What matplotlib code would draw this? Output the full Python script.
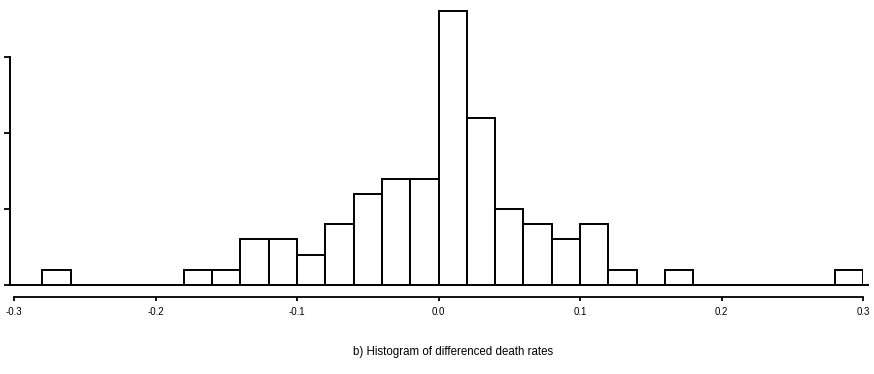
import numpy as np
import matplotlib
matplotlib.use("Agg")
import matplotlib.pyplot as plt

plt.rcParams['font.family'] = ['Liberation Sans', 'DejaVu Sans']

# bin edges (left) and counts of the histogram
bin_left = [-0.28, -0.26, -0.24, -0.22, -0.20, -0.18, -0.16, -0.14, -0.12, -0.10,
            -0.08, -0.06, -0.04, -0.02, 0.00, 0.02, 0.04, 0.06, 0.08, 0.10,
            0.12, 0.14, 0.16, 0.18, 0.20, 0.22, 0.24, 0.26, 0.28]
counts = [1, 0, 0, 0, 0, 1, 1, 3, 3, 2,
          4, 6, 7, 7, 18, 11, 5, 4, 3, 4,
          1, 0, 1, 0, 0, 0, 0, 0, 1]
bin_width = 0.02

xticks = [-0.3, -0.2, -0.1, 0.0, 0.1, 0.2, 0.3]
xtick_labels = ["-0.3", "-0.2", "-0.1", "0.0", "0.1", "0.2", "0.3"]
yticks = [0, 5, 10, 15]
caption = "b) Histogram of differenced death rates"

fig = plt.figure(figsize=(8.74, 3.74), dpi=100)
W, H = 874, 374
ax = fig.add_axes([14 / W, (H - 285) / H, 849 / W, 285 / H])

ax.bar(bin_left, counts, width=bin_width, align='edge',
       facecolor='white', edgecolor='black', linewidth=1.4)
# baseline across the whole range
ax.hlines(0, -0.304, 0.304, color='black', linewidth=1.4, clip_on=False)

ax.set_xlim(-0.3, 0.3)
ax.set_ylim(0, 285 / 15.2)

for s in ['top', 'right']:
    ax.spines[s].set_visible(False)
ax.spines['left'].set_position(('outward', 3))
ax.spines['left'].set_bounds(0, 15)
ax.spines['left'].set_linewidth(1.4)
ax.spines['bottom'].set_position(('outward', 8.6))
ax.spines['bottom'].set_bounds(-0.3, 0.3)
ax.spines['bottom'].set_linewidth(1.3)

ax.set_yticks(yticks)
ax.set_yticklabels([])
ax.tick_params(axis='y', direction='out', length=4, width=1.3)
ax.set_xticks(xticks)
ax.set_xticklabels(xtick_labels, fontsize=7)
ax.tick_params(axis='x', direction='out', length=3, width=1.3, pad=4)

fig.text(453 / W, 1 - 352 / H, caption, ha='center', va='center', fontsize=8.3)

fig.savefig("out.png", dpi=100)
